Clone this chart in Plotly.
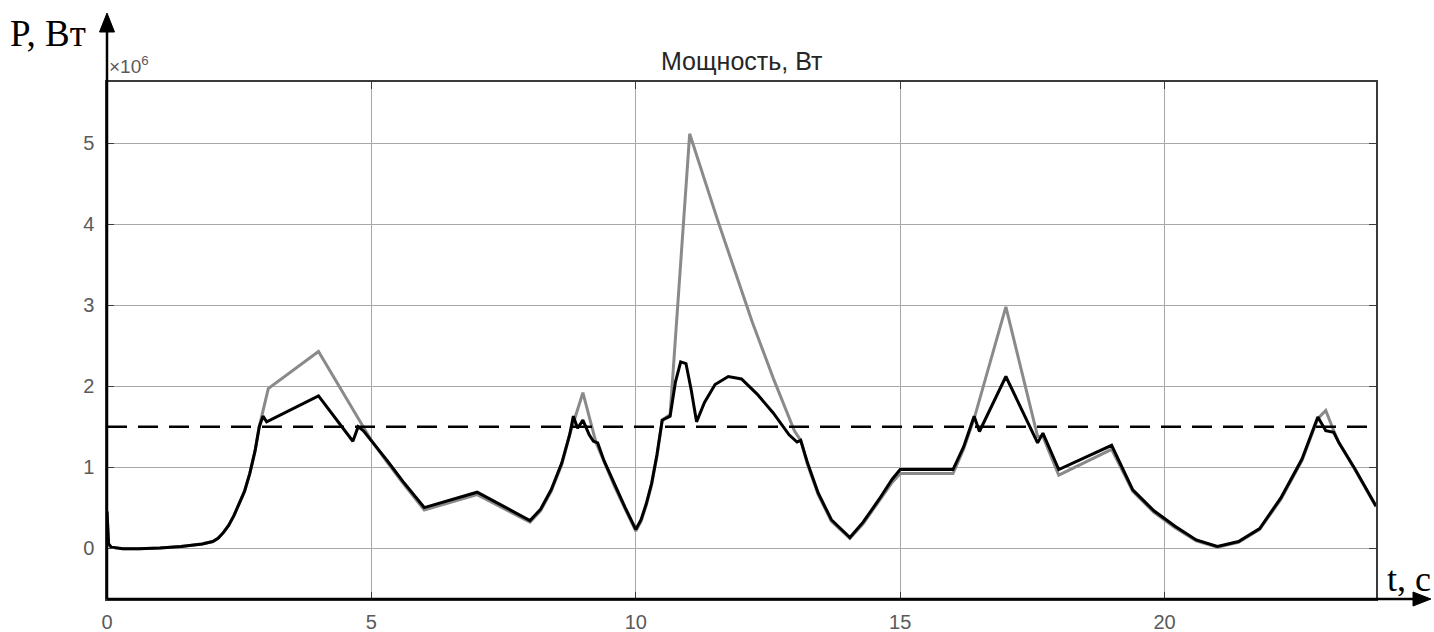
import plotly.graph_objects as go

# ---------------- data (power in units of 1e6 W) ----------------
t_black = [0.00, 0.03, 0.08, 0.3, 0.6, 1.0, 1.4, 1.8, 2.0, 2.1, 2.2, 2.3, 2.4, 2.5, 2.6, 2.7, 2.8, 2.88,
           2.95, 3.02, 4.00, 4.65, 4.75, 4.85, 5.0, 5.3, 5.6, 6.0, 7.0, 8.0, 8.2, 8.4, 8.6, 8.75, 8.82,
           8.9, 9.0, 9.12, 9.2, 9.28, 9.4, 9.6, 9.8, 10.0, 10.1, 10.2, 10.3, 10.4, 10.5, 10.65, 10.75,
           10.85, 10.95, 11.05, 11.15, 11.3, 11.5, 11.75, 12.0, 12.3, 12.6, 12.9, 13.05, 13.12, 13.25,
           13.45, 13.7, 14.05, 14.3, 14.6, 14.85, 15.0, 16.0, 16.2, 16.4, 16.5, 17.0, 17.6, 17.7, 18.0,
           19.0, 19.4, 19.8, 20.2, 20.6, 21.0, 21.4, 21.8, 22.2, 22.6, 22.9, 23.05, 23.2, 23.3, 23.6, 24.0]
p_black = [0.45, 0.05, 0.01, -0.01, -0.01, 0.00, 0.02, 0.05, 0.08, 0.12, 0.19, 0.28, 0.40, 0.55, 0.70, 0.92, 1.20, 1.50,
           1.63, 1.56, 1.88, 1.32, 1.50, 1.45, 1.33, 1.08, 0.82, 0.50, 0.69, 0.34, 0.48, 0.72, 1.05, 1.40, 1.63,
           1.48, 1.58, 1.40, 1.32, 1.30, 1.08, 0.78, 0.50, 0.23, 0.35, 0.55, 0.80, 1.15, 1.58, 1.63, 2.05,
           2.30, 2.28, 1.95, 1.56, 1.80, 2.02, 2.12, 2.09, 1.90, 1.67, 1.40, 1.31, 1.33, 1.05,
           0.68, 0.35, 0.13, 0.32, 0.60, 0.85, 0.97, 0.97, 1.25, 1.63, 1.44, 2.12, 1.30, 1.42, 0.97,
           1.27, 0.72, 0.46, 0.27, 0.10, 0.02, 0.08, 0.24, 0.62, 1.10, 1.62, 1.45, 1.43, 1.30, 0.98, 0.52]

t_grey = [0.00, 0.03, 0.08, 0.3, 0.6, 1.0, 1.4, 1.8, 2.0, 2.1, 2.2, 2.3, 2.4, 2.5, 2.6, 2.7, 2.8, 2.88,
          2.95, 3.05, 4.00, 4.85, 5.0, 5.3, 5.6, 6.0, 7.0, 8.0, 8.2, 8.4, 8.6, 8.75, 8.85, 9.0, 9.25,
          9.4, 9.6, 9.8, 10.0, 10.1, 10.2, 10.3, 10.4, 10.5, 10.65, 11.02, 11.55, 12.2, 12.6, 13.0,
          13.12, 13.25, 13.45, 13.7, 14.05, 14.3, 14.6, 14.85, 15.0, 16.0, 16.2, 16.4, 17.0, 17.6,
          17.7, 18.0, 19.0, 19.4, 19.8, 20.2, 20.6, 21.0, 21.4, 21.8, 22.2, 22.6, 22.9, 23.05, 23.2,
          23.3, 23.6, 24.0]
p_grey = [0.45, 0.05, 0.01, -0.01, -0.01, 0.00, 0.02, 0.05, 0.08, 0.12, 0.19, 0.28, 0.40, 0.55, 0.70, 0.92, 1.20, 1.50,
          1.70, 1.97, 2.43, 1.50, 1.33, 1.06, 0.80, 0.47, 0.66, 0.32, 0.46, 0.70, 1.03, 1.40, 1.62, 1.92, 1.30,
          1.06, 0.76, 0.48, 0.21, 0.33, 0.53, 0.78, 1.13, 1.58, 1.65, 5.12, 4.05, 2.80, 2.10, 1.45,
          1.33, 1.03, 0.66, 0.33, 0.12, 0.30, 0.57, 0.81, 0.92, 0.92, 1.22, 1.60, 2.98, 1.38,
          1.38, 0.90, 1.22, 0.70, 0.44, 0.25, 0.09, 0.01, 0.07, 0.23, 0.60, 1.08, 1.60, 1.70, 1.45,
          1.30, 0.97, 0.51]

p_limit = 1.5
t_limit = [0, 24]

x_ticks = [0, 5, 10, 15, 20]
y_ticks = [0, 1, 2, 3, 4, 5]

title_text = "Мощность, Вт"
y_label = "P, Вт"
x_label = "t, с"

# ---------------- layout geometry ----------------
W, H = 1434, 632
L, R, T, B = 107, 1376, 82, 599


def px(x):
    return (x - L) / (R - L)


def py(y):
    return (B - y) / (B - T)


fig = go.Figure()
fig.add_trace(go.Scatter(x=t_grey, y=p_grey, mode="lines",
                         line=dict(color="#8a8a8a", width=3), showlegend=False))
fig.add_trace(go.Scatter(x=t_black, y=p_black, mode="lines",
                         line=dict(color="#000000", width=3), showlegend=False))
fig.add_trace(go.Scatter(x=t_limit, y=[p_limit, p_limit], mode="lines",
                         line=dict(color="#000000", width=2.5, dash="20px,11px"), showlegend=False))

tickfont = dict(family="Liberation Sans, Arial, sans-serif", size=20, color="#5a5a5a")

fig.update_xaxes(range=[0, 24], tickvals=x_ticks, showgrid=True, gridcolor="#a8a8a8", gridwidth=1,
                 zeroline=False, showline=True, mirror="allticks", linecolor="#3a3a3a", linewidth=1.5,
                 ticks="inside", ticklen=7, tickcolor="#3a3a3a", tickfont=tickfont,
                 ticklabelstandoff=4, automargin=False)
fig.update_yaxes(range=[-0.63, 5.76], tickvals=y_ticks, showgrid=True, gridcolor="#a8a8a8", gridwidth=1,
                 zeroline=False, showline=True, mirror="allticks", linecolor="#3a3a3a", linewidth=1.5,
                 ticks="inside", ticklen=7, tickcolor="#3a3a3a", tickfont=tickfont,
                 ticklabelstandoff=7, automargin=False)

shapes = [
    # left axis with arrow
    dict(type="line", xref="paper", yref="paper", x0=px(107), x1=px(107), y0=py(B), y1=py(28),
         line=dict(color="black", width=2.5), layer="above"),
    dict(type="path", xref="paper", yref="paper",
         path=f"M {px(107)} {py(13)} L {px(99.5)} {py(32)} L {px(114.5)} {py(32)} Z",
         fillcolor="black", line=dict(color="black", width=1), layer="above"),
    # bottom axis with arrow
    dict(type="line", xref="paper", yref="paper", x0=px(L), x1=px(1418), y0=py(599), y1=py(599),
         line=dict(color="black", width=2.5), layer="above"),
    dict(type="path", xref="paper", yref="paper",
         path=f"M {px(1431)} {py(599)} L {px(1413)} {py(592)} L {px(1413)} {py(606)} Z",
         fillcolor="black", line=dict(color="black", width=1), layer="above"),
]

annotations = [
    dict(text=title_text, xref="paper", yref="paper", x=0.5, y=py(61), xanchor="center", yanchor="middle",
         showarrow=False, font=dict(family="Liberation Sans, Arial, sans-serif", size=25, color="#262626")),
    dict(text="×10<sup>6</sup>", xref="paper", yref="paper", x=px(107), y=py(79), xanchor="left",
         yanchor="bottom", showarrow=False,
         font=dict(family="Liberation Sans, Arial, sans-serif", size=19, color="#5a5a5a")),
    dict(text=y_label, xref="paper", yref="paper", x=px(8), y=py(33), xanchor="left", yanchor="middle",
         showarrow=False, font=dict(family="Liberation Serif, Times New Roman, serif", size=37, color="black")),
    dict(text=x_label, xref="paper", yref="paper", x=px(1385), y=py(579), xanchor="left", yanchor="middle",
         showarrow=False, font=dict(family="Liberation Serif, Times New Roman, serif", size=36, color="black")),
]

fig.update_layout(width=W, height=H, margin=dict(l=L, r=W - R, t=T, b=H - B, autoexpand=False),
                  paper_bgcolor="white", plot_bgcolor="white",
                  shapes=shapes, annotations=annotations, showlegend=False)

fig.write_html("out.html")
